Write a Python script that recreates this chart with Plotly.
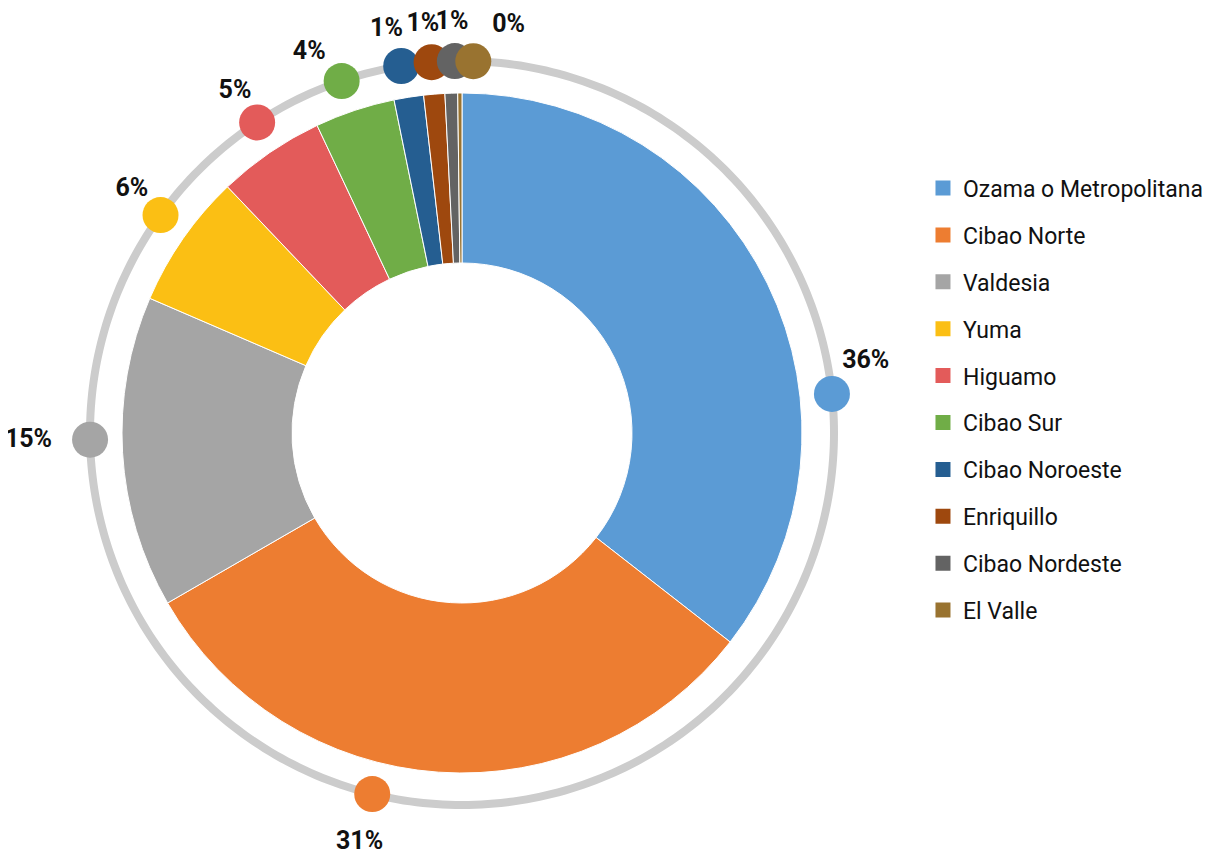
import numpy as np
import plotly.graph_objects as go

# ----------------------------------------------------
# Data
# ----------------------------------------------------

regions = [
    "Ozama o Metropolitana",
    "Cibao Norte",
    "Valdesia",
    "Yuma",
    "Higuamo",
    "Cibao Sur",
    "Cibao Noroeste",
    "Enriquillo",
    "Cibao Nordeste",
    "El Valle",
]

shares = [35.5, 31.1, 14.8, 6.4, 5.1, 3.8, 1.4, 1.0, 0.6, 0.2]

colors = [
    "#5B9BD5", "#ED7D31", "#A5A5A5", "#FBBF14", "#E35B5A",
    "#70AD47", "#255E91", "#9E480E", "#636363", "#997330",
]

# small angular nudges (degrees) so the marker dots / labels don't collide
dot_nudge = [20, 10, 2.3, 1, 1, -0.5, -0.4, 0, 0.7, 2.1]
label_nudge = [-4, 0.5, 0, 0.5, -0.2, -3, -1.2, -0.8, -0.3, 4.8]

FONT = "Roboto, Liberation Sans, sans-serif"

total = sum(shares)
frac = np.array(shares) / total
mid_angle = (np.cumsum(frac) - frac / 2) * 360
dot_theta = mid_angle + np.array(dot_nudge)
label_theta = dot_theta + np.array(label_nudge)
labels = [f"{round(f * 100)}%" for f in frac]


def label_pos(a):
    s, c = np.sin(np.radians(a)), np.cos(np.radians(a))
    if c < -0.9:
        return "bottom center"
    if s < -0.95:
        return "middle left"
    return "middle center"


label_positions = [label_pos(a) for a in label_theta]

W, H = 1219, 857
cx, cy = 454, 425      # page body adds ~8px offset
R_PIE = 340
R_RING = 372
R_LABEL = 410
R_POL = 424

fig = go.Figure()

fig.add_trace(
    go.Pie(
        labels=regions,
        values=shares,
        hole=0.5,
        sort=False,
        direction="clockwise",
        rotation=0,
        textinfo="none",
        showlegend=False,
        marker=dict(colors=colors, line=dict(color="white", width=1)),
        domain=dict(
            x=[(cx - R_PIE) / W, (cx + R_PIE) / W],
            y=[(H - cy - R_PIE) / H, (H - cy + R_PIE) / H],
        ),
        hoverinfo="label+percent",
    )
)

# outer grey ring
ring_theta = np.linspace(0, 360, 361)
fig.add_trace(
    go.Scatterpolar(
        r=[R_RING] * len(ring_theta),
        theta=ring_theta,
        mode="lines",
        line=dict(color="#CCCCCC", width=8),
        showlegend=False,
        hoverinfo="skip",
    )
)

# coloured dots on the ring
fig.add_trace(
    go.Scatterpolar(
        r=[R_RING] * len(regions),
        theta=dot_theta,
        mode="markers",
        marker=dict(size=36, color=colors, line=dict(width=0)),
        showlegend=False,
        text=regions,
        hoverinfo="text",
    )
)

# percentage labels
fig.add_trace(
    go.Scatterpolar(
        r=[R_LABEL] * len(regions),
        theta=label_theta,
        mode="text",
        text=labels,
        textposition=label_positions,
        textfont=dict(family=FONT, size=25, color="#111111", weight="bold"),
        cliponaxis=False,
        showlegend=False,
        hoverinfo="skip",
    )
)

# legend entries (one per region so the spacing can be set)
for name, col in zip(regions, colors):
    fig.add_trace(
        go.Scatterpolar(
            r=[None],
            theta=[None],
            mode="markers",
            marker=dict(symbol="square", size=15, color=col),
            name=name,
            legendgroup=name,
            showlegend=True,
        )
    )

fig.update_layout(
    width=W,
    height=H,
    margin=dict(l=0, r=0, t=0, b=0),
    paper_bgcolor="white",
    plot_bgcolor="white",
    polar=dict(
        domain=dict(
            x=[(cx - R_POL) / W, (cx + R_POL) / W],
            y=[(H - cy - R_POL) / H, (H - cy + R_POL) / H],
        ),
        bgcolor="rgba(0,0,0,0)",
        radialaxis=dict(range=[0, R_POL], visible=False),
        angularaxis=dict(
            rotation=90,
            direction="clockwise",
            visible=False,
        ),
    ),
    legend=dict(
        x=0.7506,
        y=0.815,
        xanchor="left",
        yanchor="top",
        traceorder="grouped",
        tracegroupgap=14,
        font=dict(family=FONT, size=23, color="#111111"),
        itemwidth=30,
    ),
    showlegend=True,
)

fig.write_html("out.html")
